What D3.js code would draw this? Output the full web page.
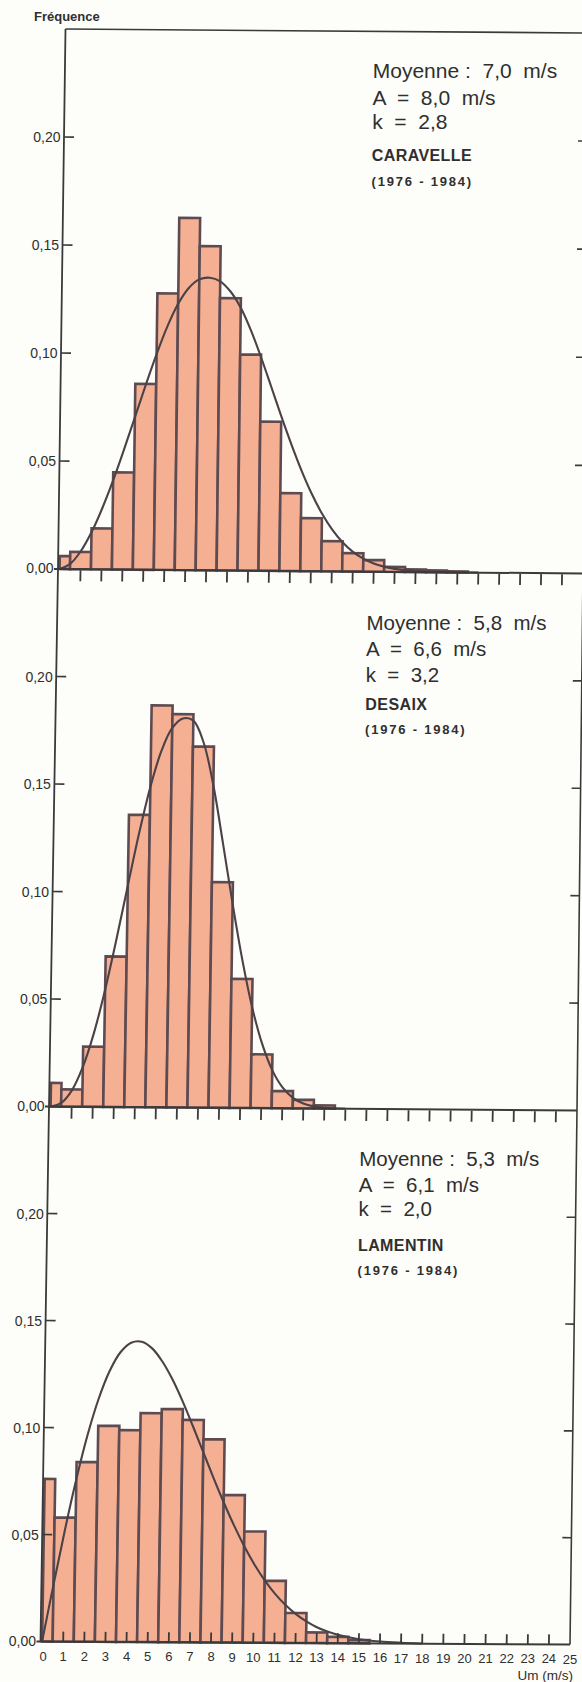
<!DOCTYPE html>
<html><head><meta charset="utf-8">
<script src="https://cdn.jsdelivr.net/npm/d3@7"></script>
<style>
html,body{margin:0;padding:0;background:#fdfdf9;}
svg{display:block;}
text{font-family:"Liberation Sans",Arial,Helvetica,sans-serif;fill:#2f2f2f;}
</style>
</head><body>
<svg id="chart" width="582" height="1682"></svg>
<script>
// ---------------- data ----------------
const speedTicks = [0,1,2,3,4,5,6,7,8,9,10,11,12,13,14,15,16,17,18,19,20,21,22,23,24,25];
const freqTicks = [0.05,0.10,0.15,0.20];
const freqTickLabels = ["0,05","0,10","0,15","0,20"];
const zeroLabel = "0,00";
const yTitle = "Fréquence";
const xTitle = "Um (m/s)";

const stations = ["CARAVELLE","DESAIX","LAMENTIN"];
const meanSpeed = ["7,0","5,8","5,3"];
const paramA = ["8,0","6,6","6,1"];
const paramK = ["2,8","3,2","2,0"];
const period = "(1976 - 1984)";

// histogram frequencies, bin 0 = [0,0.5], bin i = [i-0.5, i+0.5]
const caravelleFreq = [0.006,0.008,0.019,0.045,0.086,0.128,0.163,0.150,0.126,0.100,0.069,0.036,0.0245,0.014,0.0085,0.0054,0.0023,0.0012,0.0008,0.0005];
const desaixFreq = [0.011,0.008,0.028,0.070,0.136,0.187,0.183,0.168,0.105,0.060,0.025,0.008,0.004,0.0015];
const lamentinFreq = [0.076,0.058,0.084,0.101,0.099,0.107,0.109,0.104,0.095,0.069,0.052,0.029,0.014,0.005,0.003,0.0015];

// fitted curves: [speed, frequency]
const caravelleFit = [[0,0],[0.5,0.0024],[1,0.0083],[1.5,0.0171],[2,0.0283],[2.5,0.0412],[3,0.0555],[3.5,0.0705],[4,0.0855],[4.5,0.0998],[5,0.1127],[5.5,0.1232],[6,0.1306],[6.5,0.1346],[7,0.1354],[7.5,0.1338],[8,0.1291],[8.5,0.1216],[9,0.1112],[9.5,0.0988],[10,0.0853],[10.5,0.0716],[11,0.0586],[11.5,0.0465],[12,0.0358],[12.5,0.0267],[13,0.0193],[13.5,0.0135],[14,0.0091],[14.5,0.0060],[15,0.0038],[15.5,0.0024],[16,0.0014],[17,0.0005],[18,0.0002],[20,0]];
const desaixFit = [[0,0],[0.5,0.0017],[1,0.0076],[1.5,0.0185],[2,0.0343],[2.5,0.0545],[3,0.0780],[3.5,0.1030],[4,0.1275],[4.5,0.1490],[5,0.1658],[5.5,0.1765],[6,0.1810],[6.5,0.1800],[7,0.1700],[7.5,0.1500],[8,0.1230],[8.5,0.0950],[9,0.0690],[9.5,0.0470],[10,0.0300],[10.5,0.0177],[11,0.0097],[11.5,0.0049],[12,0.0023],[12.5,0.0010],[13,0.0004],[14,0]];
const lamentinFit = [[0,0],[0.5,0.0267],[1,0.0523],[1.5,0.0759],[2,0.0966],[2.5,0.1136],[3,0.1266],[3.5,0.1354],[4,0.1399],[4.5,0.1404],[5,0.1373],[5.5,0.1311],[6,0.1226],[6.5,0.1123],[7,0.1008],[7.5,0.0889],[8,0.0770],[8.5,0.0656],[9,0.0549],[9.5,0.0452],[10,0.0366],[10.5,0.0292],[11,0.0229],[11.5,0.0177],[12,0.0135],[12.5,0.0101],[13,0.0074],[13.5,0.0054],[14,0.0039],[15,0.0019],[16,0.0009],[17,0.0004],[18,0.0001]];

const panelFreqs = [caravelleFreq, desaixFreq, lamentinFreq];
const panelFits = [caravelleFit, desaixFit, lamentinFit];

// ---------------- layout (scan geometry) ----------------
const W = 582, H = 1682;
const frameLines = [
  {L:[65.5,29],   R:[588,33]},
  {L:[58,569],    R:[583,573.5]},
  {L:[49,1106.5], R:[577,1110.5]},
  {L:[40.5,1641.5], R:[570,1644.5]}
];
function warp(s, V){
  const i = Math.max(0, Math.min(2, Math.floor(V)));
  const t = V - i, a = frameLines[i], b = frameLines[i+1];
  const Lx = a.L[0] + (b.L[0]-a.L[0])*t, Ly = a.L[1] + (b.L[1]-a.L[1])*t;
  const Rx = a.R[0] + (b.R[0]-a.R[0])*t, Ry = a.R[1] + (b.R[1]-a.R[1])*t;
  return [Lx + (Rx-Lx)*s, Ly + (Ry-Ly)*s];
}
const panelPx = 537;

const x = d3.scaleLinear().domain([0,25]).range([0.003,1]);
const yScales = [0,1,2].map(p => d3.scaleLinear().domain([0,0.25]).range([p+1,p]));

const svg = d3.select("#chart");
svg.append("rect").attr("width",W).attr("height",H).attr("fill","#fdfdf9");

const ink = "#3a3a3a";
const barFill = "#f5b093";
const barStroke = "#5e4b51";
const curveStroke = "#4b4147";

// ---------------- bars & curves ----------------
const poly = pts => "M" + pts.map(p => p[0].toFixed(2)+","+p[1].toFixed(2)).join("L") + "Z";
const fitLine = d3.line().curve(d3.curveCatmullRom.alpha(0.5));

panelFreqs.forEach((freqs, p) => {
  const y = yScales[p];
  const g = svg.append("g");
  g.selectAll("path.bar").data(freqs).join("path")
    .attr("class","bar")
    .attr("d", (f,i) => {
      const x0 = i === 0 ? 0 : i - 0.5, x1 = i + 0.5;
      return poly([warp(x(x0),y(0)), warp(x(x1),y(0)), warp(x(x1),y(f)), warp(x(x0),y(f))]);
    })
    .attr("fill", barFill)
    .attr("stroke", barStroke)
    .attr("stroke-width", 2.6)
    .attr("stroke-linejoin","miter");
  g.append("path")
    .attr("d", fitLine(panelFits[p].map(d => warp(x(d[0]), y(d[1])))))
    .attr("fill","none")
    .attr("stroke", curveStroke)
    .attr("stroke-width", 2.1);
});

// ---------------- frame ----------------
const frame = svg.append("g").attr("stroke", ink).attr("fill","none");
frame.append("path").attr("d", "M"+frameLines.map(l=>l.L.join(",")).join("L")).attr("stroke-width",1.8);
frame.append("path").attr("d", "M"+frameLines.map(l=>l.R.join(",")).join("L")).attr("stroke-width",1.6);
frameLines.forEach((l,i) => {
  frame.append("path").attr("d", "M"+(l.L[0]-(i?4:0))+","+l.L[1]+"L"+l.R.join(",")).attr("stroke-width", i===0?1.6:2);
});

// y ticks (inward, both sides) and labels
[0,1,2].forEach(p => {
  const y = yScales[p];
  freqTicks.forEach((f,k) => {
    const a = warp(0, y(f)), b = warp(1, y(f));
    frame.append("line").attr("x1",a[0]).attr("y1",a[1]).attr("x2",a[0]+10).attr("y2",a[1]+0.08).attr("stroke-width",1.6);
    frame.append("line").attr("x1",b[0]).attr("y1",b[1]).attr("x2",b[0]-9).attr("y2",b[1]-0.07).attr("stroke-width",1.6);
    svg.append("text").attr("x",a[0]-3.5).attr("y",a[1]+5).attr("text-anchor","end")
      .attr("font-size",14).text(freqTickLabels[k]);
  });
  const z = warp(0, y(0));
  svg.append("text").attr("x",z[0]-4.5).attr("y",z[1]+4).attr("text-anchor","end")
    .attr("font-size",14).text(zeroLabel);
});

// x ticks
[0,1,2].forEach(p => {
  const y = yScales[p];
  speedTicks.filter(v => v > 0 && v < 25).forEach(v => {
    const a = warp(x(v), y(0));
    if (p < 2) {
      frame.append("line").attr("x1",a[0]).attr("y1",a[1]+1).attr("x2",a[0]-0.2).attr("y2",a[1]+12).attr("stroke-width",1.8);
    } else {
      frame.append("line").attr("x1",a[0]).attr("y1",a[1]).attr("x2",a[0]+0.15).attr("y2",a[1]-10).attr("stroke-width",1.8);
    }
  });
});
// bottom tick labels
speedTicks.forEach(v => {
  const a = warp(x(v), 3);
  svg.append("text").attr("x",a[0]+(v===0?1:0)).attr("y",a[1]+19).attr("text-anchor","middle")
    .attr("font-size",13).text(v);
});
svg.append("text").attr("x",573).attr("y",1680).attr("text-anchor","end").attr("font-size",13.5).text(xTitle);
svg.append("text").attr("x",34).attr("y",21).attr("font-size",13).attr("font-weight","bold").attr("fill","#3a3a3a").text(yTitle);

// ---------------- annotations ----------------
const annot = [
  {s:0.589, fs:21,   lines:[46,73,97,129.3,153.6]},
  {s:0.589, fs:20.5, lines:[58.7,84.7,110.7,138.1,162.4]},
  {s:0.589, fs:20.5, lines:[57.4,83.4,107.4,142.8,167.1]}
];
[0,1,2].forEach(p => {
  const cfg = annot[p];
  const texts = [
    {t:"Moyenne :  "+meanSpeed[p]+"  m/s", fs:cfg.fs, fw:"normal", ls:0},
    {t:"A  =  "+paramA[p]+"  m/s", fs:cfg.fs, fw:"normal", ls:0},
    {t:"k  =  "+paramK[p], fs:cfg.fs, fw:"normal", ls:0},
    {t:stations[p], fs:16, fw:"bold", ls:0.4},
    {t:period, fs:13, fw:"bold", ls:1.8}
  ];
  texts.forEach((d,i) => {
    const a = warp(cfg.s, p + cfg.lines[i]/panelPx);
    svg.append("text").attr("x",a[0]).attr("y",a[1])
      .attr("font-size",d.fs).attr("font-weight",d.fw)
      .attr("letter-spacing",d.ls)
      .style("white-space","pre")
      .attr("fill", i>=3 ? "#464646" : "#2f2f2f")
      .text(d.t);
  });
});
</script>
</body></html>
